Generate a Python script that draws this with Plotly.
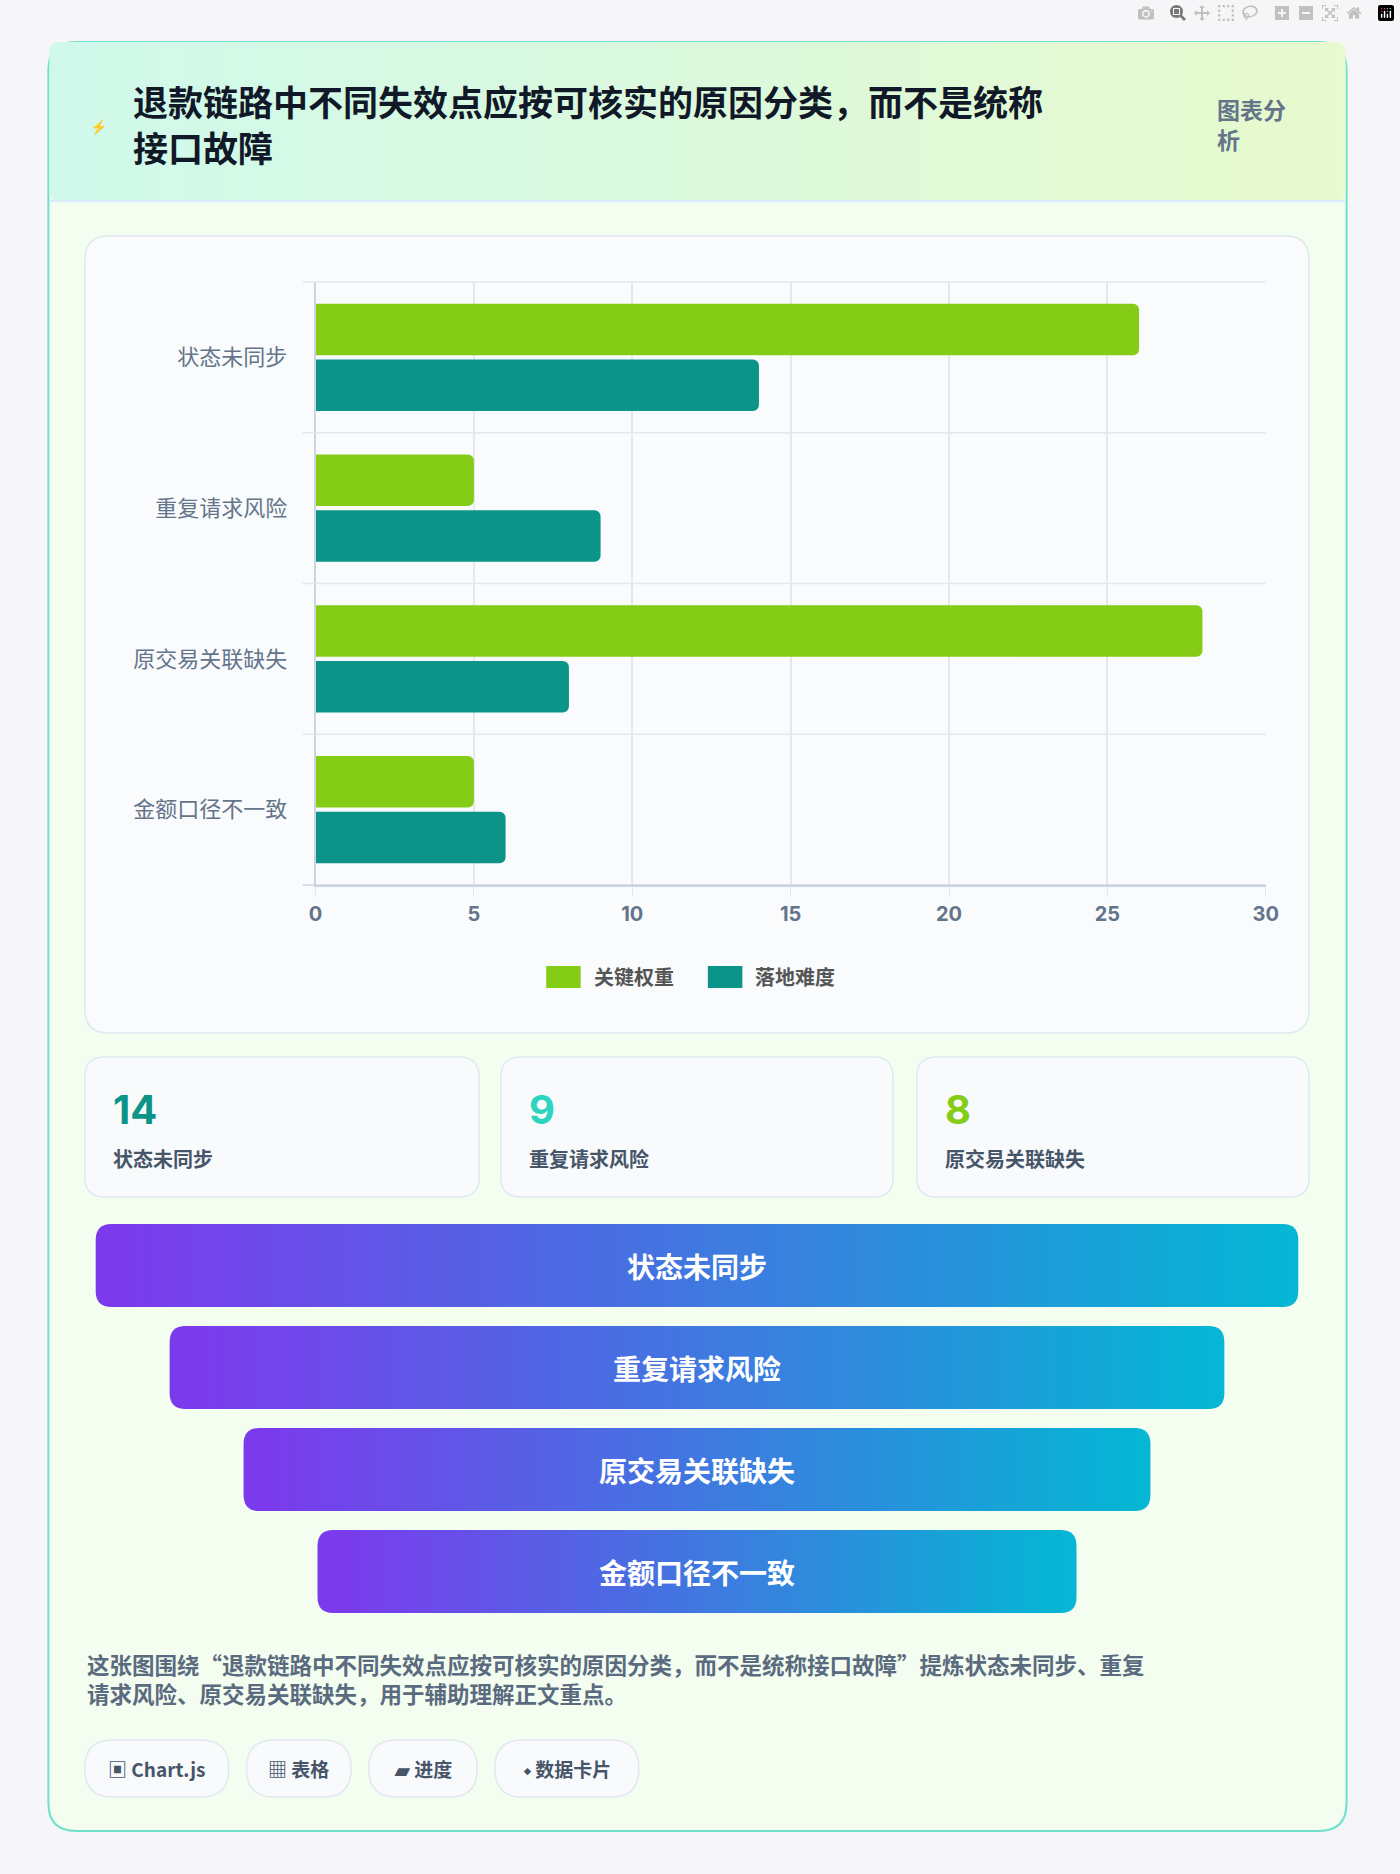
import plotly.graph_objects as go

W, H = 1400, 1874

categories = ["状态未同步", "重复请求风险", "原交易关联缺失", "金额口径不一致"]
weight = [26, 5, 28, 5]
difficulty = [14, 9, 8, 6]
series_names = ["关键权重", "落地难度"]
series_colors = ["#84cc16", "#0d9488"]
kpi_values = [14, 9, 8]
kpi_labels = ["状态未同步", "重复请求风险", "原交易关联缺失"]
chips = ["▣ Chart.js", "▦ 表格", "▰ 进度", "⬩ 数据卡片"]
title = "退款链路中不同失效点应按可核实的原因分类，而不是统称<br>接口故障"
desc = ("这张图围绕“退款链路中不同失效点应按可核实的原因分类，而不是统称接口故障”提炼状态未同步、重复<br>"
        "请求风险、原交易关联缺失，用于辅助理解正文重点。")

FONT = "Noto Sans CJK SC"


def px(x):
    return x / W


def py(y):
    return 1 - y / H


def rrect(x0, y0, x1, y1, r):
    # rounded rectangle path in paper coords, input in pixels
    return (f"M{px(x0 + r)},{py(y0)} L{px(x1 - r)},{py(y0)} "
            f"Q{px(x1)},{py(y0)} {px(x1)},{py(y0 + r)} L{px(x1)},{py(y1 - r)} "
            f"Q{px(x1)},{py(y1)} {px(x1 - r)},{py(y1)} L{px(x0 + r)},{py(y1)} "
            f"Q{px(x0)},{py(y1)} {px(x0)},{py(y1 - r)} L{px(x0)},{py(y0 + r)} "
            f"Q{px(x0)},{py(y0)} {px(x0 + r)},{py(y0)} Z")


def lerp(c0, c1, t):
    return "rgb(%d,%d,%d)" % tuple(int(a + (b - a) * t) for a, b in zip(c0, c1))


shapes = []
annotations = []


def add_shape(path, fill, line="rgba(0,0,0,0)", width=0):
    shapes.append(dict(type="path", xref="paper", yref="paper", path=path,
                       fillcolor=fill, line=dict(color=line, width=width), layer="below"))


def add_text(x, y, text, size, color, family=FONT, xanchor="center", align="center"):
    annotations.append(dict(x=px(x), y=py(y), xref="paper", yref="paper", text=text, showarrow=False,
                            xanchor=xanchor, yanchor="middle", align=align,
                            font=dict(size=size, color=color, family=family)))


def gradient_bar(x0, y0, x1, y1, r, c0, c1, n=60):
    add_shape(rrect(x0, y0, x0 + 3 * r, y1, r), lerp(c0, c1, 0))
    add_shape(rrect(x1 - 3 * r, y0, x1, y1, r), lerp(c0, c1, 1))
    step = (x1 - x0 - 2 * r) / n
    for i in range(n):
        xa = x0 + r + i * step
        shapes.append(dict(type="rect", xref="paper", yref="paper", x0=px(xa), x1=px(xa + step + 0.8),
                           y0=py(y0), y1=py(y1), fillcolor=lerp(c0, c1, (i + 0.5) / n),
                           line=dict(width=0), layer="below"))


# page and card
shapes.append(dict(type="rect", xref="paper", yref="paper", x0=0, x1=1, y0=0, y1=1,
                   fillcolor="#f6f6f8", line=dict(width=0), layer="below"))
add_shape(rrect(42, 42, 1359, 1831, 28), "#f3fdf0", "#6ee0cc", 2)
gradient_bar(43, 42, 1358, 201, 10, (208, 249, 236), (232, 250, 206), n=40)
shapes.append(dict(type="line", xref="paper", yref="paper", x0=px(43), x1=px(1358), y0=py(201), y1=py(201),
                   line=dict(color="#dbeafe", width=2), layer="below"))

# chart panel
add_shape(rrect(79, 236, 1321, 1033, 24), "#f9fbfc", "#dfe8ee", 1.5)

# legend (custom swatches like Chart.js)
leg_x = [(547, 582), (711, 746)]
for (x0, x1), name, col in zip(leg_x, series_names, series_colors):
    shapes.append(dict(type="rect", xref="paper", yref="paper", x0=px(x0), x1=px(x1),
                       y0=py(988), y1=py(966), fillcolor=col, line=dict(width=0)))
    add_text(x1 + 11, 976, f"<b>{name}</b>", 20, "#555555", xanchor="left")

# kpi cards
kpi_x = [(79, 479), (501, 899), (923, 1321)]
kpi_colors = ["#0d9488", "#2dd4bf", "#84cc16"]
for (x0, x1), v, lab, c in zip(kpi_x, kpi_values, kpi_labels, kpi_colors):
    add_shape(rrect(x0, 1057, x1, 1197, 20), "#f8fafc", "#dfeaf0", 1.5)
    add_text(x0 + 27, 1109, f"<b>{v}</b>", 40, c, family="Inter", xanchor="left")
    add_text(x0 + 27, 1158, f"<b>{lab}</b>", 20, "#475569", xanchor="left")

# funnel bars
for i, cat in enumerate(categories):
    half = 610 - i * 75
    y0 = 1224 + i * 102
    gradient_bar(700 - half, y0, 700 + half, y0 + 83, 16, (124, 58, 237), (6, 182, 212))
    add_text(700, y0 + 42, f"<b>{cat}</b>", 28, "white")

# chips
chip_x = [(79, 225), (243, 349), (367, 477), (495, 641)]
for (x0, x1), t in zip(chip_x, chips):
    add_shape(rrect(x0, 1740, x1, 1797, 28), "#f8fafc", "#e2e8f0", 1.5)
    add_text((x0 + x1) / 2, 1768, f"<b>{t}</b>", 19, "#475569")

# text
add_text(93, 126, "⚡", 14, "#2563eb")
add_text(126, 124, f"<b>{title}</b>", 35, "#111827", xanchor="left", align="left")
add_text(1225, 124, "<b>图表分<br>析</b>", 23, "#64748b", xanchor="left", align="left")
add_text(79, 1678, f"<b>{desc}</b>", 22.5, "#5b6b7f", xanchor="left", align="left")

# category separator lines (offset grid)
band = (885 - 282) / len(categories)
for k in range(len(categories) + 1):
    yy = 282 + k * band
    shapes.append(dict(type="line", xref="paper", yref="paper", x0=px(300 if k == 4 else 313), x1=px(1277),
                       y0=py(yy), y1=py(yy), line=dict(color="#cbd5e1" if k == 4 else "#e5e7eb", width=1.5)))
    if k < 4:
        shapes.append(dict(type="line", xref="paper", yref="paper", x0=px(300), x1=px(313),
                           y0=py(yy), y1=py(yy), line=dict(color="#e5e7eb", width=1.5)))

fig = go.Figure()
for name, vals, col in zip(series_names, [weight, difficulty], series_colors):
    fig.add_trace(go.Bar(y=categories, x=vals, name=name, orientation="h", showlegend=False,
                         marker=dict(color=col, cornerradius=6, line=dict(width=0))))

fig.update_layout(
    width=W, height=H, margin=dict(l=0, r=0, t=0, b=0),
    paper_bgcolor="#f6f6f8", plot_bgcolor="rgba(0,0,0,0)",
    barmode="group", bargap=0.26, bargroupgap=0.08,
    shapes=shapes, annotations=annotations,
    xaxis=dict(domain=[px(313), px(1277)], range=[0, 30], dtick=5, showgrid=True, gridcolor="#e5e7eb",
               gridwidth=1.5, zeroline=False, showline=True, linecolor="#cbd5e1", linewidth=1.5,
               ticks="outside", ticklen=10, tickcolor="#e5e7eb",
               tickfont=dict(size=20, color="#64748b", family="Inter", weight=700), anchor="y"),
    yaxis=dict(domain=[py(885), py(282)], autorange="reversed", showgrid=False, zeroline=False,
               showline=True, linecolor="#cbd5e1", linewidth=1.5, ticklabelstandoff=22,
               tickfont=dict(size=22, color="#64748b", family=FONT)),
    showlegend=False,
    font=dict(family=FONT),
)

fig.write_html("out.html", post_script="document.body.style.margin='0';")
